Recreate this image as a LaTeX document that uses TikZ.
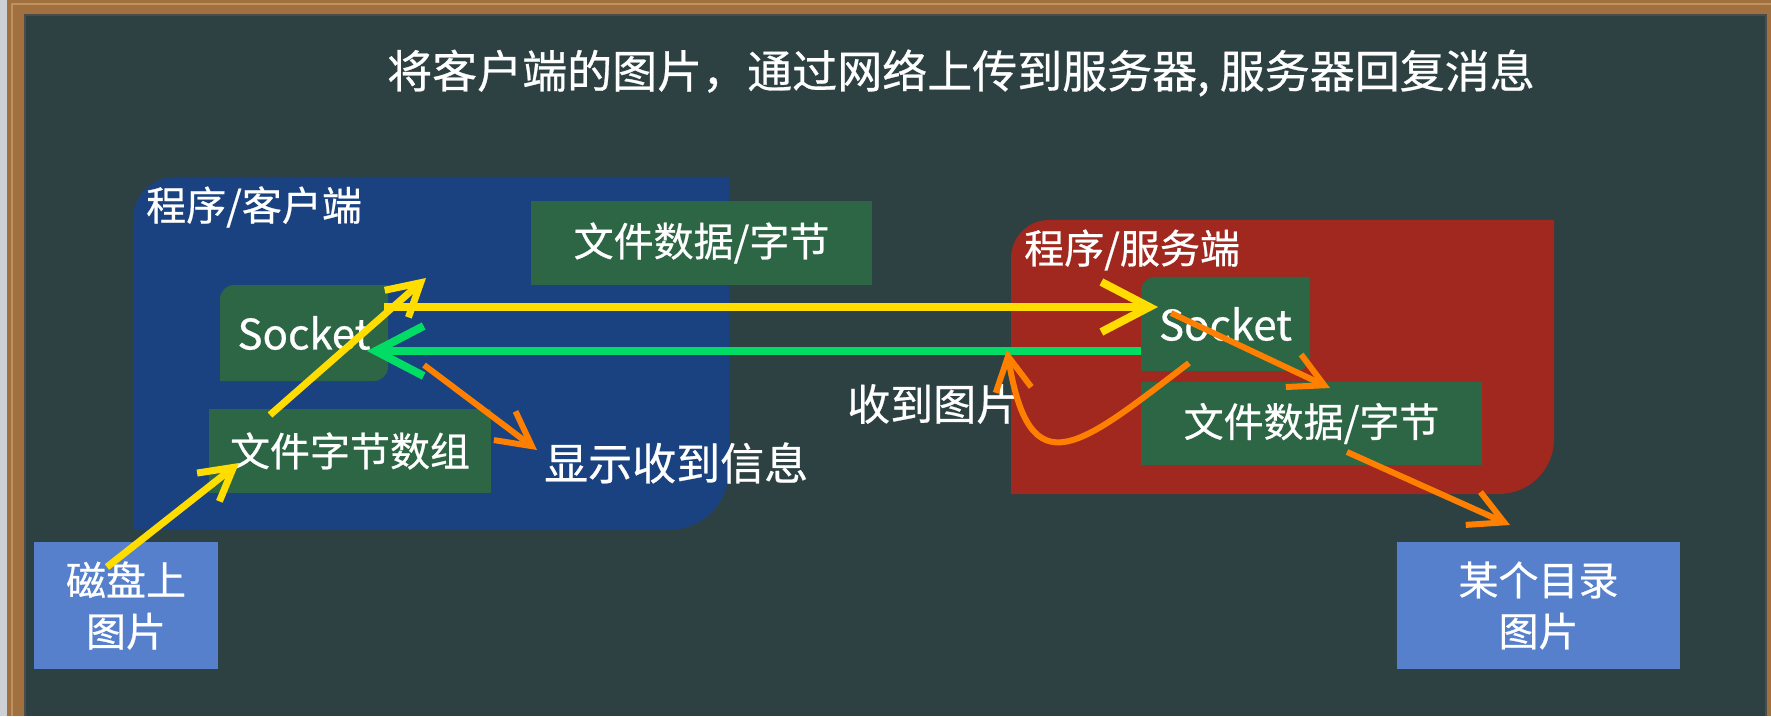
\documentclass[tikz,border=0pt]{standalone}
\usepackage{fontspec}
\setmainfont{Noto Sans CJK SC}[FakeBold=0.6]
\usetikzlibrary{arrows.meta}
\definecolor{board}{RGB}{45,65,67}
\definecolor{wood}{RGB}{160,112,62}
\definecolor{woodlight}{RGB}{190,145,95}
\definecolor{edgegray}{RGB}{205,208,212}
\definecolor{clientblue}{RGB}{26,66,128}
\definecolor{serverred}{RGB}{160,40,30}
\definecolor{boxgreen}{RGB}{44,102,68}
\definecolor{lightblue}{RGB}{86,128,204}
\definecolor{arryellow}{RGB}{255,221,0}
\definecolor{arrgreen}{RGB}{0,220,100}
\definecolor{arrorange}{RGB}{255,128,0}
\begin{document}
\begin{tikzpicture}[x=1pt,y=1pt,
  txt/.style={text=white, inner sep=0pt, font=\fontsize{40}{51}\selectfont, align=center},
  gbox/.style={txt, fill=boxgreen},
  lbox/.style={txt, fill=lightblue},
  yarrow/.style={draw=arryellow, line width=8pt, -{Straight Barb[length=48pt,width=50pt]}},
  ydiag/.style={draw=arryellow, line width=7pt, -{Straight Barb[length=32pt,width=36pt]}},
  garrow/.style={draw=arrgreen, line width=8pt, -{Straight Barb[length=48pt,width=50pt]}},
  oarrow/.style={draw=arrorange, line width=6pt, -{Straight Barb[length=34pt,width=36pt]}}]
\useasboundingbox (0,0) rectangle (1771,716);
% board and frame
\fill[edgegray] (0,0) rectangle (1771,716);
\fill[board] (25,0) rectangle (1766,701);
\fill[wood] (7,0) rectangle (25,716);
\fill[wood] (7,701) rectangle (1771,716);
\fill[wood] (1766,0) rectangle (1771,716);
\draw[woodlight, line width=1.5pt] (12,0) -- (12,712) -- (1771,712);
\draw[black!70, line width=2pt] (25,0) -- (25,701) -- (1766,701) -- (1766,0);
% title
\node[txt, font=\fontsize{45}{52}\selectfont] (title) at (961,643) {将客户端的图片，通过网络上传到服务器, 服务器回复消息};
% client region
\fill[clientblue] (133,186) -- (133,497) arc[start angle=180,end angle=90,radius=42]
  -- (729,539) -- (729,246) arc[start angle=0,end angle=-90,radius=60] -- cycle;
\node[txt, anchor=west] (clab) at (146,509) {程序/客户端};
% server region
\fill[serverred] (1011,222) -- (1011,458) arc[start angle=180,end angle=90,radius=38]
  -- (1554,496) -- (1554,277) arc[start angle=0,end angle=-90,radius=55] -- cycle;
\node[txt, anchor=west] (slab) at (1024,466) {程序/服务端};
% boxes
\node[gbox, minimum width=341pt, minimum height=84pt] (cdata) at (701.5,473) {文件数据/字节};
\fill[boxgreen] (220,335) -- (220,417) arc[start angle=180,end angle=90,radius=14]
  -- (388,431) -- (388,349) arc[start angle=0,end angle=-90,radius=14] -- cycle;
\node[txt, font=\fontsize{42}{50}\selectfont, minimum width=168pt, minimum height=96pt] (csock) at (304,383) {Socket};
\node[gbox, minimum width=282pt, minimum height=84pt] (carr) at (350,265) {文件字节数组};
\node[lbox, minimum width=184pt, minimum height=127pt] (disk) at (126,110.5) {磁盘上\\图片};
\fill[boxgreen] (1141,345) -- (1141,425) arc[start angle=180,end angle=90,radius=14]
  -- (1310,439) -- (1310,359) arc[start angle=0,end angle=-90,radius=14] -- cycle;
\node[txt, font=\fontsize{42}{50}\selectfont, minimum width=169pt, minimum height=94pt] (ssock) at (1225.5,392) {Socket};
\node[gbox, minimum width=341pt, minimum height=83pt] (sdata) at (1311.5,292.5) {文件数据/字节};
\node[lbox, minimum width=283pt, minimum height=127pt] (dir) at (1538.5,110.5) {某个目录\\图片};
\node[txt, font=\fontsize{44}{52}\selectfont, anchor=west] (show) at (544,253) {显示收到信息};
\node[txt, font=\fontsize{43}{52}\selectfont, anchor=west] (recv) at (847,312) {收到图片};
% arrow end points
\coordinate (y1s) at (107,149); \coordinate (y1e) at (239,253);
\coordinate (y2s) at (270,301); \coordinate (y2e) at (426,438);
\coordinate (yhs) at (384,409); \coordinate (yhe) at (1158,409);
\coordinate (ghs) at (1141,365); \coordinate (ghe) at (367,365);
\coordinate (ocs) at (424,351); \coordinate (oce) at (537,266);
\coordinate (oss) at (1171,403); \coordinate (ose) at (1330,328);
\coordinate (ous) at (1189,353); \coordinate (oue) at (1007,366);
\coordinate (ods) at (1347,264); \coordinate (ode) at (1510,191);
% arrows
\draw[ydiag] (y1s) -- (y1e);
\draw[ydiag] (y2s) -- (y2e);
\draw[yarrow] (yhs) -- (yhe);
\draw[garrow] (ghs) -- (ghe);
\draw[oarrow] (ocs) -- (oce);
\draw[oarrow] (oss) -- (ose);
\draw[oarrow] (ous) .. controls (1080,270) and (1030,225) .. (oue);
\draw[oarrow] (ods) -- (ode);
\end{tikzpicture}
\end{document}
